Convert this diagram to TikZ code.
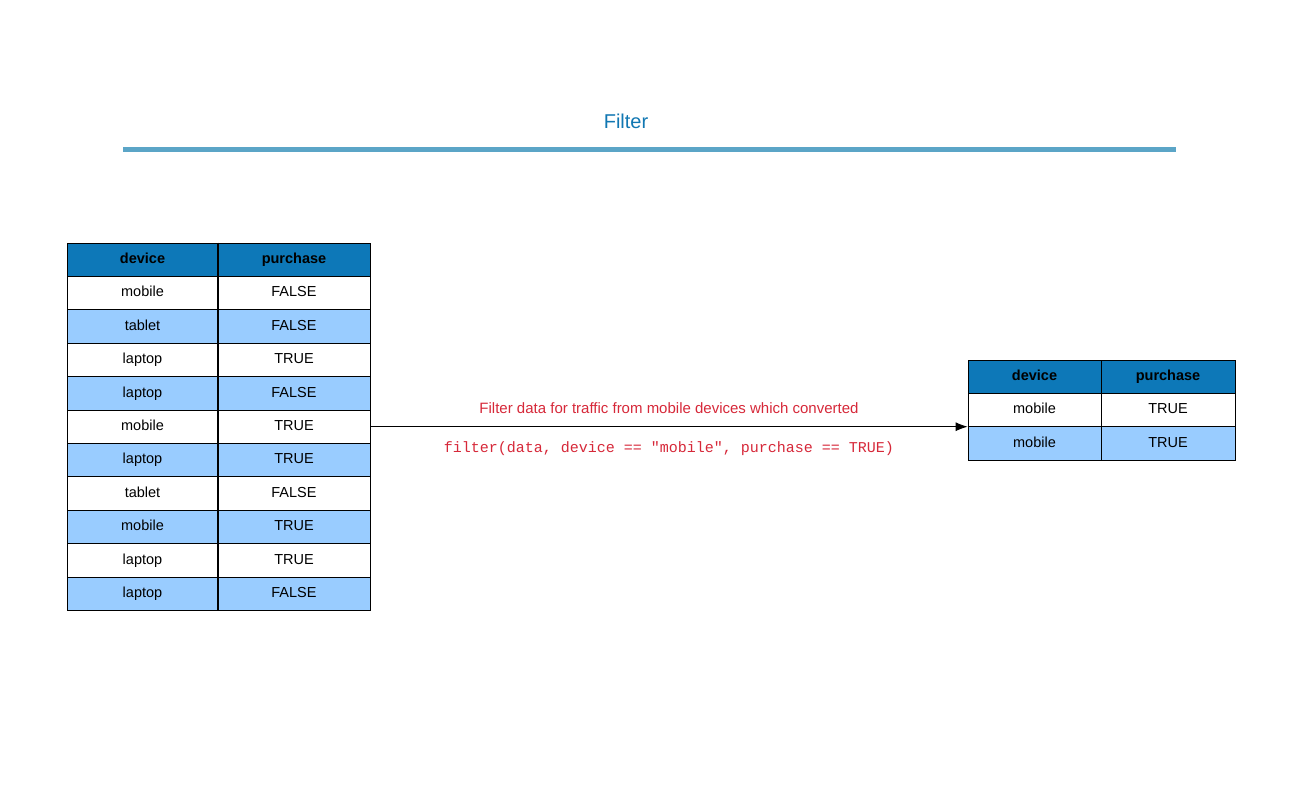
\documentclass[tikz,border=0pt]{standalone}
\usepackage{fontspec}
\setmainfont{Liberation Sans}
\setmonofont{Liberation Mono}
\usetikzlibrary{arrows.meta,positioning}
\definecolor{hdblue}{RGB}{13, 120, 184}
\definecolor{rowblue}{RGB}{153, 204, 255}
\definecolor{titleblue}{RGB}{17, 119, 178}
\definecolor{ruleblue}{RGB}{91, 165, 199}
\definecolor{codered}{RGB}{214, 40, 57}

\tikzset{
  cell/.style={draw=black, line width=0.8pt, minimum height=33.4pt, inner sep=0pt,
    text height=10.5pt, text depth=3pt, font=\fontsize{14.5}{16}\selectfont},
  hdcell/.style={cell, fill=hdblue, font=\fontsize{14.5}{16}\selectfont\bfseries},
  row1/.style={fill=white},
  row0/.style={fill=rowblue},
  note/.style={text=codered, font=\fontsize{15}{18}\selectfont}
}

\begin{document}
\begin{tikzpicture}[x=1pt, y=-1pt]
\useasboundingbox (0,0) rectangle (1300,800);

% title and rule
\node[text=titleblue, font=\fontsize{20}{24}\selectfont] (title) at (626,121) {Filter};
\draw[ruleblue, line width=5pt] (123,149) -- (1176,149);

% input table
\node[hdcell, minimum width=151pt] (L0a) at (142.5,259.7) {device};
\node[hdcell, minimum width=152pt] (L0b) at (294,259.7) {purchase};
\foreach \dev/\pur [count=\i] in {mobile/FALSE, tablet/FALSE, laptop/TRUE, laptop/FALSE, mobile/TRUE, laptop/TRUE, tablet/FALSE, mobile/TRUE, laptop/TRUE, laptop/FALSE}{
  \pgfmathtruncatemacro\odd{mod(\i,2)}
  \node[cell, row\odd, minimum width=151pt] (L\i a) at (142.5,{259.7+33.4*\i}) {\dev};
  \node[cell, row\odd, minimum width=152pt] (L\i b) at (294,{259.7+33.4*\i}) {\pur};
}
\draw[line width=2pt] (L0a.north east) -- (L10a.south east);

% output table
\node[hdcell, minimum width=133pt] (R0a) at (1034.5,376.7) {device};
\node[hdcell, minimum width=134pt] (R0b) at (1168,376.7) {purchase};
\foreach \dev/\pur [count=\i] in {mobile/TRUE, mobile/TRUE}{
  \pgfmathtruncatemacro\odd{mod(\i,2)}
  \node[cell, row\odd, minimum width=133pt] (R\i a) at (1034.5,{376.7+33.4*\i}) {\dev};
  \node[cell, row\odd, minimum width=134pt] (R\i b) at (1168,{376.7+33.4*\i}) {\pur};
}

% filter step
\coordinate (target) at (L5b.east -| R1a.west);
\draw[line width=0.8pt, -{Latex[length=12pt, width=9pt]}] (L5b.east) -- (target)
  node[midway, above=9pt, note] (desc) {Filter data for traffic from mobile devices which converted}
  node[midway, below=11pt, note, font=\fontsize{15}{18}\selectfont\ttfamily] (code) {filter(data, device == "mobile", purchase == TRUE)};
\end{tikzpicture}
\end{document}
